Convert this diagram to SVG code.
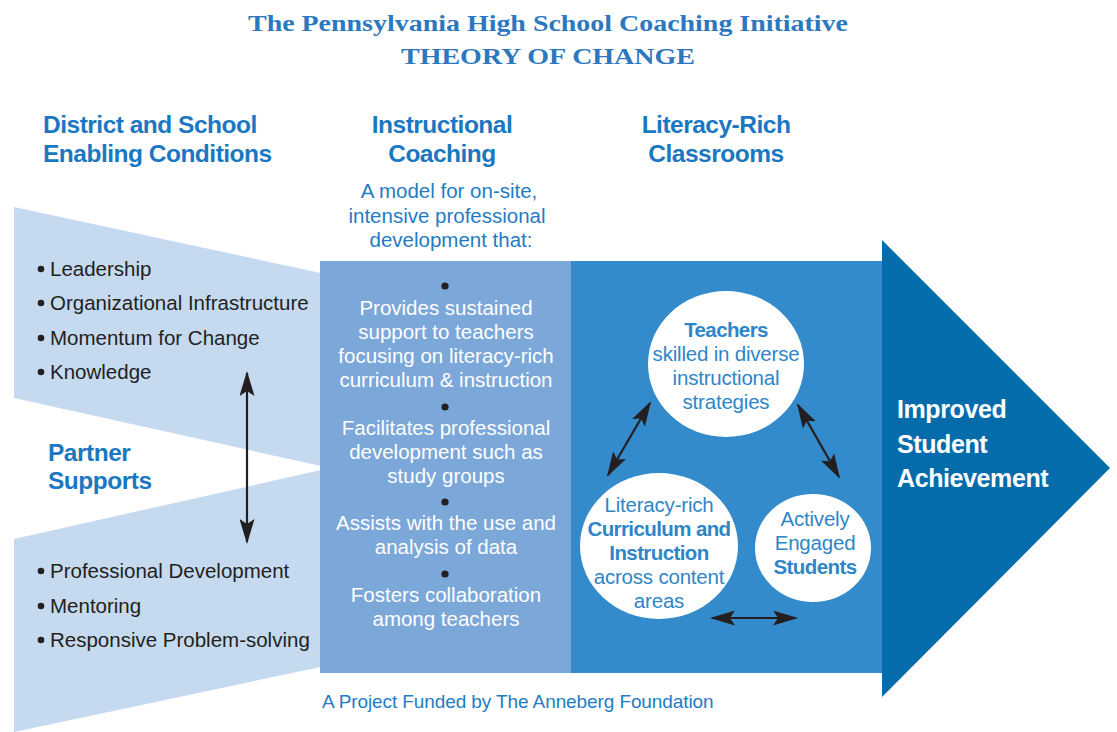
<svg xmlns="http://www.w3.org/2000/svg" width="1117" height="732" viewBox="0 0 1117 732">
<style>
.title{font-family:"Liberation Serif",serif;font-weight:bold;fill:#2B78BF;font-size:24px;text-anchor:middle}
.hdr{font-family:"Liberation Sans",Arial,sans-serif;font-weight:bold;fill:#1A78C2;font-size:24.5px;letter-spacing:-0.5px}
.bul{font-family:"Liberation Sans",Arial,sans-serif;fill:#231F20;font-size:20.5px}
.mid{font-family:"Liberation Sans",Arial,sans-serif;fill:#ffffff;font-size:20.5px;text-anchor:middle}
.intro{font-family:"Liberation Sans",Arial,sans-serif;fill:#1F7CC4;font-size:20.5px;text-anchor:middle}
.circ{font-family:"Liberation Sans",Arial,sans-serif;fill:#2E86C8;font-size:20.5px;text-anchor:middle;letter-spacing:-0.2px}
.b{font-weight:bold;letter-spacing:-0.6px}
.outcome{font-family:"Liberation Sans",Arial,sans-serif;font-weight:bold;fill:#ffffff;font-size:25px;letter-spacing:-0.4px}
.foot{font-family:"Liberation Sans",Arial,sans-serif;fill:#1F7CC4;font-size:19px;letter-spacing:-0.1px}
.conn{stroke:#231F20;stroke-width:2.2;fill:none;marker-start:url(#ah);marker-end:url(#ah)}
</style>
<defs>
<marker id="ah" viewBox="0 0 25 15" refX="23" refY="7.5" markerWidth="25" markerHeight="15" markerUnits="userSpaceOnUse" orient="auto-start-reverse">
<path d="M0,0 L25,7.5 L0,15 L5,7.5 Z" fill="#231F20"/>
</marker>
</defs>
<rect width="1117" height="732" fill="#ffffff"/>

<g id="title">
<text class="title" x="548" y="31" textLength="600" lengthAdjust="spacingAndGlyphs">The Pennsylvania High School Coaching Initiative</text>
<text class="title" x="548" y="64" textLength="294" lengthAdjust="spacingAndGlyphs">THEORY OF CHANGE</text>
</g>

<g id="enabling-conditions">
<polygon points="14,207 330,275 330,468 14,398" fill="#C5D9EF"/>
<text class="hdr" x="43" y="133">District and School</text>
<text class="hdr" x="43" y="162">Enabling Conditions</text>
<g fill="#231F20">
<circle cx="41" cy="269" r="3.3"/>
<circle cx="41" cy="303" r="3.3"/>
<circle cx="41" cy="338" r="3.3"/>
<circle cx="41" cy="372" r="3.3"/>
</g>
<text class="bul" x="50" y="276">Leadership</text>
<text class="bul" x="50" y="310">Organizational Infrastructure</text>
<text class="bul" x="50" y="345">Momentum for Change</text>
<text class="bul" x="50" y="379">Knowledge</text>
</g>

<g id="partner-supports">
<polygon points="14,539 330,468 330,665 14,732" fill="#C5D9EF"/>
<text class="hdr" x="48" y="461">Partner</text>
<text class="hdr" x="48" y="489">Supports</text>
<g fill="#231F20">
<circle cx="41" cy="571" r="3.3"/>
<circle cx="41" cy="606" r="3.3"/>
<circle cx="41" cy="640" r="3.3"/>
</g>
<text class="bul" x="50" y="578">Professional Development</text>
<text class="bul" x="50" y="613">Mentoring</text>
<text class="bul" x="50" y="647">Responsive Problem-solving</text>
</g>

<g id="instructional-coaching">
<rect x="320" y="261" width="251" height="412" fill="#7BA7D9"/>
<text class="hdr" x="442" y="133" text-anchor="middle">Instructional</text>
<text class="hdr" x="442" y="162" text-anchor="middle">Coaching</text>
<text class="intro" x="449" y="198">A model for on-site,</text>
<text class="intro" x="447" y="223">intensive professional</text>
<text class="intro" x="451" y="247">development that:</text>
<g fill="#231F20">
<circle cx="445" cy="286" r="3.6"/>
<circle cx="445" cy="407" r="3.6"/>
<circle cx="445" cy="502" r="3.6"/>
<circle cx="445" cy="574" r="3.6"/>
</g>
<text class="mid" x="446" y="315">Provides sustained</text>
<text class="mid" x="446" y="339">support to teachers</text>
<text class="mid" x="446" y="363">focusing on literacy-rich</text>
<text class="mid" x="446" y="387">curriculum &amp; instruction</text>
<text class="mid" x="446" y="435">Facilitates professional</text>
<text class="mid" x="446" y="459">development such as</text>
<text class="mid" x="446" y="483">study groups</text>
<text class="mid" x="446" y="530">Assists with the use and</text>
<text class="mid" x="446" y="554">analysis of data</text>
<text class="mid" x="446" y="602">Fosters collaboration</text>
<text class="mid" x="446" y="626">among teachers</text>
</g>

<g id="literacy-rich-classrooms">
<rect x="571" y="261" width="312" height="412" fill="#348BCB"/>
<text class="hdr" x="716" y="133" text-anchor="middle">Literacy-Rich</text>
<text class="hdr" x="716" y="162" text-anchor="middle">Classrooms</text>
</g>

<g id="teachers">
<ellipse cx="726" cy="364" rx="78" ry="73" fill="#ffffff"/>
<text class="circ b" x="726" y="337">Teachers</text>
<text class="circ" x="726" y="361">skilled in diverse</text>
<text class="circ" x="726" y="385">instructional</text>
<text class="circ" x="726" y="409">strategies</text>
</g>

<g id="curriculum">
<ellipse cx="659" cy="546" rx="79" ry="73" fill="#ffffff"/>
<text class="circ" x="659" y="512">Literacy-rich</text>
<text class="circ b" x="659" y="536">Curriculum and</text>
<text class="circ b" x="659" y="560">Instruction</text>
<text class="circ" x="659" y="584">across content</text>
<text class="circ" x="659" y="608">areas</text>
</g>

<g id="students">
<ellipse cx="813" cy="548" rx="58" ry="54" fill="#ffffff"/>
<text class="circ" x="815" y="526">Actively</text>
<text class="circ" x="815" y="550">Engaged</text>
<text class="circ b" x="815" y="574">Students</text>
</g>

<g id="outcome">
<polygon points="882,240 1110,468 882,697" fill="#056CAB"/>
<text class="outcome" x="897" y="418">Improved</text>
<text class="outcome" x="897" y="453">Student</text>
<text class="outcome" x="897" y="487">Achievement</text>
</g>

<g id="footer">
<text class="foot" x="322" y="708">A Project Funded by The Anneberg Foundation</text>
</g>

<g id="connectors">
<line class="conn" x1="247" y1="373" x2="247" y2="542"/>
<line class="conn" x1="650" y1="403" x2="608" y2="475"/>
<line class="conn" x1="798" y1="405" x2="839" y2="477"/>
<line class="conn" x1="712" y1="618" x2="796" y2="618"/>
</g>
</svg>
